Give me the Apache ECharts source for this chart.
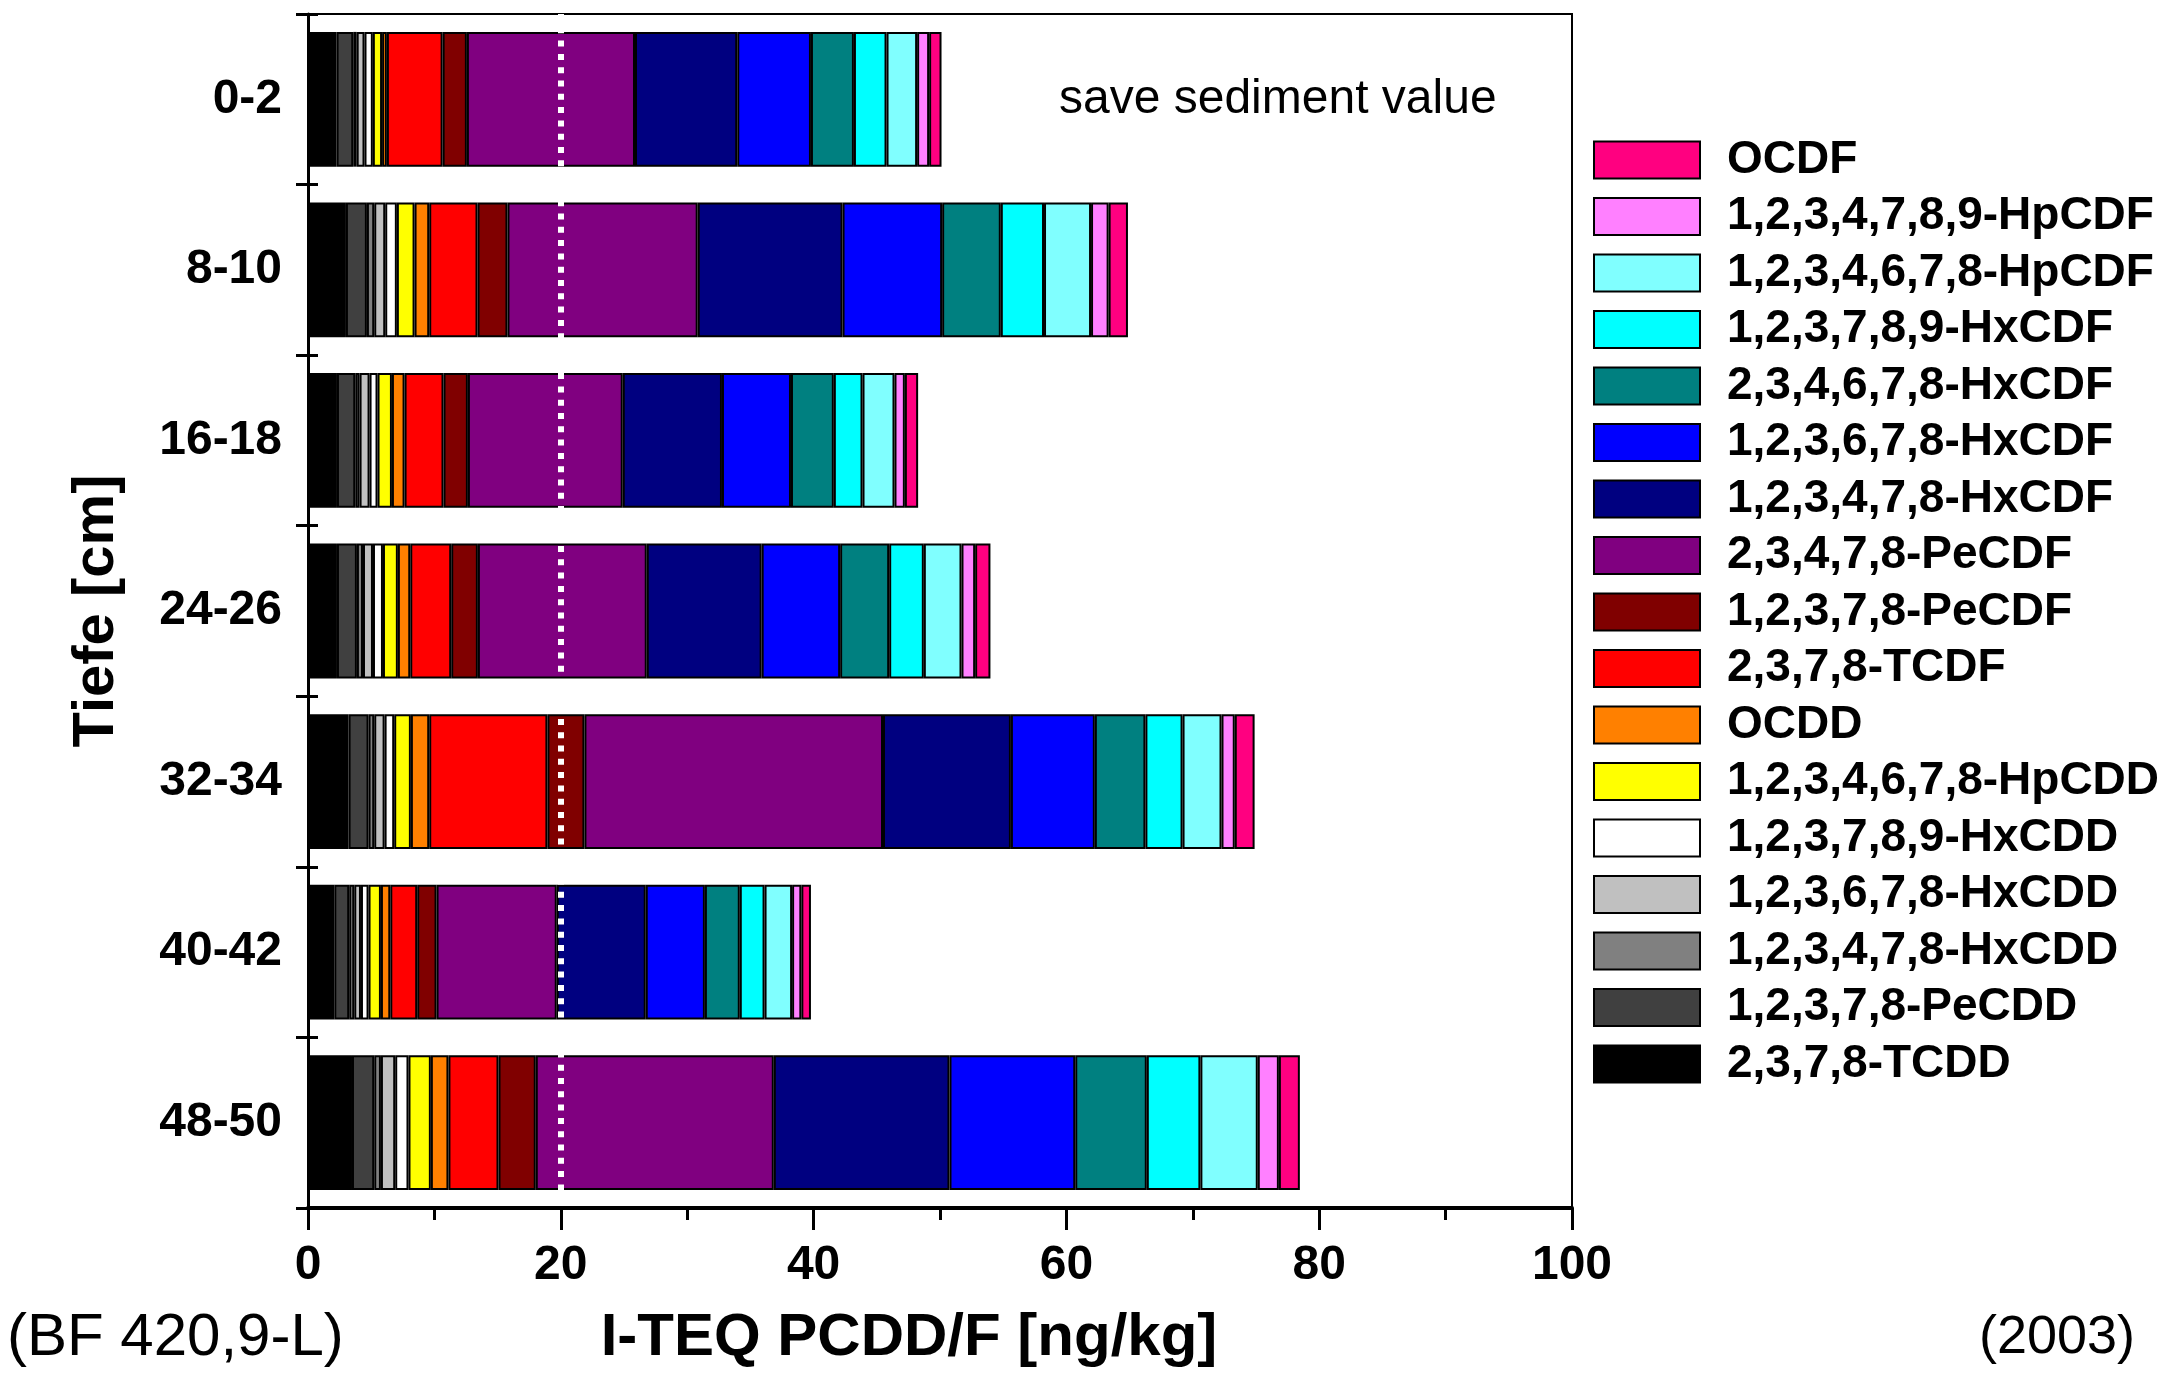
<!DOCTYPE html>
<html>
<head>
<meta charset="utf-8">
<script src="https://cdn.jsdelivr.net/npm/echarts@6/dist/echarts.min.js"></script>
<style>
html,body{margin:0;padding:0;background:#fff;}
#chart{width:2163px;height:1375px;}
</style>
</head>
<body>
<div id="chart"></div>
<script>
// ---- data ----
const categories = ['0-2', '8-10', '16-18', '24-26', '32-34', '40-42', '48-50'];
const congeners = [
  '2,3,7,8-TCDD', '1,2,3,7,8-PeCDD', '1,2,3,4,7,8-HxCDD', '1,2,3,6,7,8-HxCDD',
  '1,2,3,7,8,9-HxCDD', '1,2,3,4,6,7,8-HpCDD', 'OCDD', '2,3,7,8-TCDF',
  '1,2,3,7,8-PeCDF', '2,3,4,7,8-PeCDF', '1,2,3,4,7,8-HxCDF', '1,2,3,6,7,8-HxCDF',
  '2,3,4,6,7,8-HxCDF', '1,2,3,7,8,9-HxCDF', '1,2,3,4,6,7,8-HpCDF', '1,2,3,4,7,8,9-HpCDF', 'OCDF'
];
// I-TEQ contribution per congener (same order as congeners), one array per depth
const depth_0_2   = [2.26, 1.32, 0.27, 0.62, 0.66, 0.73, 0.38, 4.41, 1.92, 13.30, 8.09, 5.83, 3.40, 2.58, 2.42, 0.95, 0.98];
const depth_8_10  = [3.00, 1.66, 0.58, 0.87, 0.92, 1.40, 1.16, 3.82, 2.37, 15.05, 11.46, 7.88, 4.64, 3.42, 3.72, 1.39, 1.53];
const depth_16_18 = [2.29, 1.45, 0.34, 0.79, 0.63, 1.14, 1.00, 3.08, 1.93, 12.25, 7.85, 5.46, 3.39, 2.27, 2.53, 0.82, 1.05];
const depth_24_26 = [2.29, 1.58, 0.48, 0.79, 0.79, 1.18, 0.98, 3.24, 2.11, 13.36, 9.09, 6.21, 3.88, 2.74, 2.98, 1.08, 1.21];
const depth_32_34 = [3.21, 1.58, 0.45, 0.82, 0.76, 1.32, 1.45, 9.35, 2.93, 23.62, 10.12, 6.64, 4.00, 2.94, 3.08, 1.05, 1.57];
const depth_40_42 = [2.08, 1.18, 0.40, 0.53, 0.60, 0.98, 0.74, 2.13, 1.53, 9.51, 7.04, 4.68, 2.76, 1.96, 2.18, 0.73, 0.76];
const depth_48_50 = [3.48, 1.76, 0.53, 1.13, 1.05, 1.77, 1.39, 3.96, 2.95, 18.83, 13.90, 9.95, 5.66, 4.24, 4.54, 1.67, 1.66];
const xTicks = [0, 20, 40, 60, 80, 100];
const saveSedimentValue = 20;

// ---- styles ----
const colors = ['#000000', '#404040', '#808080', '#C0C0C0', '#FFFFFF', '#FFFF00', '#FF8000', '#FF0000',
  '#800000', '#800080', '#000080', '#0000FF', '#008080', '#00FFFF', '#80FFFF', '#FF80FF', '#FF0080'];
const FONT = '"Liberation Sans", Arial, sans-serif';

const rows = [depth_0_2, depth_8_10, depth_16_18, depth_24_26, depth_32_34, depth_40_42, depth_48_50];

const series = congeners.map((name, i) => {
  const s = {
    name: name,
    type: 'bar',
    stack: 'total',
    barWidth: '79%',
    yAxisIndex: 0,
    data: rows.map(r => r[i]),
    itemStyle: { color: colors[i], borderColor: '#000', borderWidth: 2 },
    emphasis: { disabled: true },
    silent: true
  };
  if (i === 0) {
    s.markLine = {
      silent: true,
      symbol: 'none',
      animation: false,
      label: { show: false },
      lineStyle: { color: '#fff', width: 6, type: [6, 7.3], cap: 'butt' },
      data: [{ xAxis: saveSedimentValue }]
    };
  }
  return s;
});

const chart = echarts.init(document.getElementById('chart'), null, { renderer: 'canvas' });
chart.setOption({
  animation: false,
  backgroundColor: '#fff',
  textStyle: { fontFamily: FONT },
  grid: {
    left: 308, right: 591, top: 14, bottom: 167,
    show: true, borderColor: '#000', borderWidth: 2, backgroundColor: 'transparent'
  },
  xAxis: {
    type: 'value',
    min: 0, max: 100, interval: 20,
    axisLine: { show: true, lineStyle: { color: '#000', width: 4 } },
    axisTick: { show: true, length: 22, lineStyle: { color: '#000', width: 3 } },
    minorTick: { show: true, splitNumber: 2, length: 12, lineStyle: { color: '#000', width: 3 } },
    splitLine: { show: false },
    axisLabel: {
      margin: 34, color: '#000', fontSize: 48, fontWeight: 'bold', fontFamily: FONT,
      formatter: v => (xTicks.indexOf(v) >= 0 ? String(v) : '')
    }
  },
  yAxis: [
    {
      type: 'category',
      data: categories,
      inverse: true,
      position: 'left',
      axisLine: { show: true, lineStyle: { color: '#000', width: 3 } },
      axisTick: { show: true, length: 12, lineStyle: { color: '#000', width: 3 } },
      axisLabel: { margin: 26, color: '#000', fontSize: 48, fontWeight: 'bold', fontFamily: FONT },
      name: 'Tiefe [cm]',
      nameLocation: 'middle',
      nameRotate: 90,
      nameGap: 182,
      nameTextStyle: { color: '#000', fontSize: 58, fontWeight: 'bold', fontFamily: FONT }
    },
    {
      type: 'category',
      data: categories,
      inverse: true,
      position: 'left',
      axisLine: { show: false },
      axisTick: { show: true, inside: true, length: 10, lineStyle: { color: '#000', width: 3 } },
      axisLabel: { show: false },
      splitLine: { show: false }
    }
  ],
  legend: {
    data: congeners.slice().reverse(),
    orient: 'vertical',
    left: 1593,
    top: 137,
    padding: 0,
    itemWidth: 106,
    itemHeight: 37,
    itemGap: 10.5,
    icon: 'rect',
    selectedMode: false,
    itemStyle: { borderColor: '#000', borderWidth: 2 },
    textStyle: {
      color: '#000', fontSize: 46, fontWeight: 'bold', fontFamily: FONT,
      lineHeight: 37, padding: [0, 0, 0, 22]
    }
  },
  graphic: [
    {
      type: 'text', left: 1278 - 219, top: 97 - 21,
      style: { text: 'save sediment value', fontSize: 48, fontFamily: FONT, fill: '#000' }
    },
    {
      type: 'text', x: 7, y: 1338,
      style: { text: '(BF 420,9-L)', fontSize: 60, fontFamily: FONT, fill: '#000', align: 'left', verticalAlign: 'middle' }
    },
    {
      type: 'text', x: 909, y: 1338,
      style: { text: 'I-TEQ PCDD/F [ng/kg]', fontSize: 60, fontWeight: 'bold', fontFamily: FONT, fill: '#000', align: 'center', verticalAlign: 'middle' }
    },
    {
      type: 'text', x: 2135, y: 1338,
      style: { text: '(2003)', fontSize: 54, fontFamily: FONT, fill: '#000', align: 'right', verticalAlign: 'middle' }
    }
  ],
  series: series
});
</script>
</body>
</html>
